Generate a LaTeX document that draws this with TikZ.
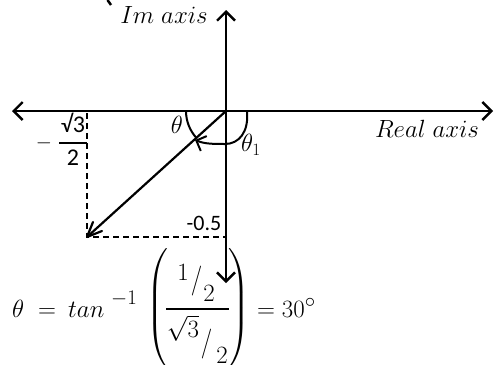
\documentclass[tikz,border=0pt]{standalone}
\usepackage{amsmath}
\usepackage{fontspec}
\newfontfamily\carlito{Carlito}
\usetikzlibrary{arrows.meta}
\setlength\nulldelimiterspace{0pt}
\begin{document}
\begin{tikzpicture}[x=1pt,y=-1pt,
  axis/.style={line width=2.4pt,arrows={Straight Barb[length=9pt,width=18pt]-Straight Barb[length=9pt,width=18pt]}},
  vecline/.style={line width=2.2pt},
  vechead/.style={line width=2.2pt,line join=round,line cap=round},
  dashline/.style={line width=1.3pt,dash pattern=on 6pt off 4pt},
  anglearc/.style={line width=2pt},
  lab/.style={inner sep=0pt,font=\fontsize{23}{27}\selectfont},
  sans/.style={inner sep=0pt,font=\fontsize{22}{26}\selectfont\carlito},
  sansb/.style={inner sep=0pt,font=\fontsize{24}{28}\selectfont\carlito},
  eq/.style={inner sep=0pt,font=\fontsize{31}{36}\selectfont},
  eqs/.style={inner sep=0pt,font=\fontsize{22}{26}\selectfont}]
\useasboundingbox (0,0) rectangle (495,364);
\coordinate (O) at (226,111);
\coordinate (L) at (12,111);
\coordinate (R) at (493,111);
\coordinate (T) at (226,10);
\coordinate (B) at (226,283);
\coordinate (P) at (87,237);
\coordinate (Px) at (87,113);
\coordinate (Py) at (226,237);
\coordinate (V1) at (102,231);
\coordinate (V2) at (93,222);
\coordinate (A1) at (186,111);
\coordinate (A2) at (247,111);
\coordinate (A3) at (195,140);
% axes
\draw[axis] (L) -- (R);
\draw[axis] (B) -- (T);
% dashed projections
\draw[dashline] (Px) -- (P) -- (Py);
% vector
\draw[vecline] (O) -- (P);
\draw[vechead] (V1) -- (P) -- (V2);
% angle theta
\draw[anglearc] (A1) arc[start angle=180,end angle=138,radius=40];
% angle theta1
\draw[anglearc,arrows={-Straight Barb[length=8pt,width=16pt]}] (A2) .. controls (249,132) and (239,144) .. (225,144) .. controls (214,144) and (205,144) .. (A3);
% fragment at top
\draw[line width=2.5pt] (107.5,0) -- (111,5);
% labels
\node[lab] (im) at (164,15) {$Im\ axis$};
\node[lab] (re) at (427,129) {$Real\ axis$};
\node[lab] (th) at (177,125) {$\theta$};
\node[lab] (th1) at (251,145) {$\theta_1$};
\node[sans] (m05) at (204,223) {-0.5};
\node[inner sep=0pt,font=\fontsize{20}{22}\selectfont] (fm) at (44,143) {$-$};
\node[sansb] (fn) at (73,123) {√3};
\node[sansb] (fd) at (73,158) {2};
\draw[line width=1.5pt] (59,143) -- (87,143);
% equation
\node[eq,anchor=base west] (eth) at (12,317) {$\theta$};
\node[eq,anchor=base] (eeq) at (47,317) {$=$};
\node[eq,anchor=base west] (etan) at (68,317) {$tan$};
\node[eqs,anchor=base west] (esup) at (111,304) {$-1$};
\node[eq] (lp) at (157,309) {$\left(\vrule height 55pt depth 55pt width 0pt\right.$};
\node[eq] (n1) at (183,272) {$1$};
\node[eq,yscale=1.2] (s1) at (196.5,281) {$/$};
\node[eq] (n2) at (209,293) {$2$};
\draw[line width=1.6pt] (166,309) -- (229,309);
\node[eq] (d1) at (183,328) {$\sqrt{3}$};
\node[eq,yscale=1.2] (s2) at (206.5,344) {$/$};
\node[eq] (d2) at (222,355) {$2$};
\node[eq] (rp) at (239,309) {$\left.\vrule height 55pt depth 55pt width 0pt\right)$};
\node[eq,anchor=base west] (eqb) at (257,317) {$= 30^\circ$};
\end{tikzpicture}
\end{document}
